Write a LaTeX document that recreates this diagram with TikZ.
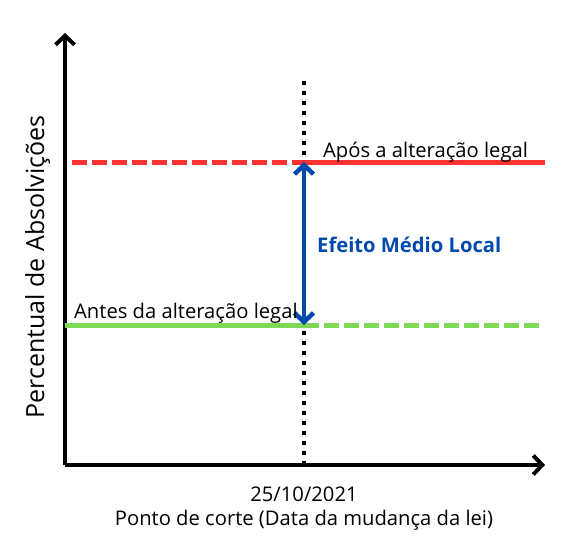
\documentclass[tikz,border=0pt]{standalone}
\usepackage{fontspec}
\setmainfont{Open Sans}
\usetikzlibrary{arrows.meta}

\definecolor{depois}{HTML}{FF3131}
\definecolor{antes}{HTML}{7ED957}
\definecolor{efeito}{HTML}{004AAD}

\begin{document}
\begin{tikzpicture}[x=1pt,y=-1pt,
  eixo/.style={line width=4pt,-{Straight Barb[length=9pt,width=19pt,line width=4pt]}},
  corte/.style={line width=4.5pt,dash pattern=on 4.5pt off 5.5pt},
  tracejado/.style={line width=5pt,dash pattern=on 15pt off 5pt},
  rotulo/.style={inner sep=0pt,font=\fontsize{20.2}{24}\selectfont}]
\useasboundingbox (0,0) rectangle (581,546);
  % eixos
  \coordinate (origem) at (65,465);
  \coordinate (topo) at (65,33);
  \coordinate (fim) at (545,465);
  \draw[eixo] (origem) -- (topo);
  \draw[eixo] (origem) -- (fim);
  % ponto de corte
  \coordinate (c0) at (304,465);
  \coordinate (c1) at (304,78);
  \draw[corte] (c0) -- (c1);
  % niveis
  \coordinate (r0) at (72,162);
  \coordinate (r1) at (304,162);
  \coordinate (r2) at (545,162);
  \coordinate (g0) at (65,325);
  \coordinate (g1) at (304,325);
  \coordinate (g2) at (542,325);
  \draw[tracejado,depois] (r0) -- (r1);
  \draw[line width=5pt,depois] (r1) -- (r2);
  \draw[line width=5pt,antes] (g0) -- (g1);
  \draw[tracejado,antes] (g1) -- (g2);
  \draw[efeito,line width=4.5pt,{Straight Barb[length=9pt,width=19pt,line width=4.5pt]}-{Straight Barb[length=9pt,width=19pt,line width=4.5pt]}]
    (r1) -- (g1);
  % textos
  \node[rotulo,anchor=base west] (apos) at (323,157) {Após a alteração legal};
  \node[rotulo,anchor=base west] (antes) at (74,318) {Antes da alteração legal};
  \node[rotulo,anchor=base west,text=efeito,font=\fontsize{20.2}{24}\selectfont\bfseries] (efeito) at (317,252) {Efeito Médio Local};
  \node[rotulo,anchor=base] (data) at (304,501) {25/10/2021};
  \node[rotulo,anchor=base] (ponto) at (304,525) {Ponto de corte (Data da mudança da lei)};
  \node[rotulo,anchor=base,rotate=90,font=\fontsize{25}{30}\selectfont] (ylab) at (44,267) {Percentual de Absolvições};
\end{tikzpicture}
\end{document}
